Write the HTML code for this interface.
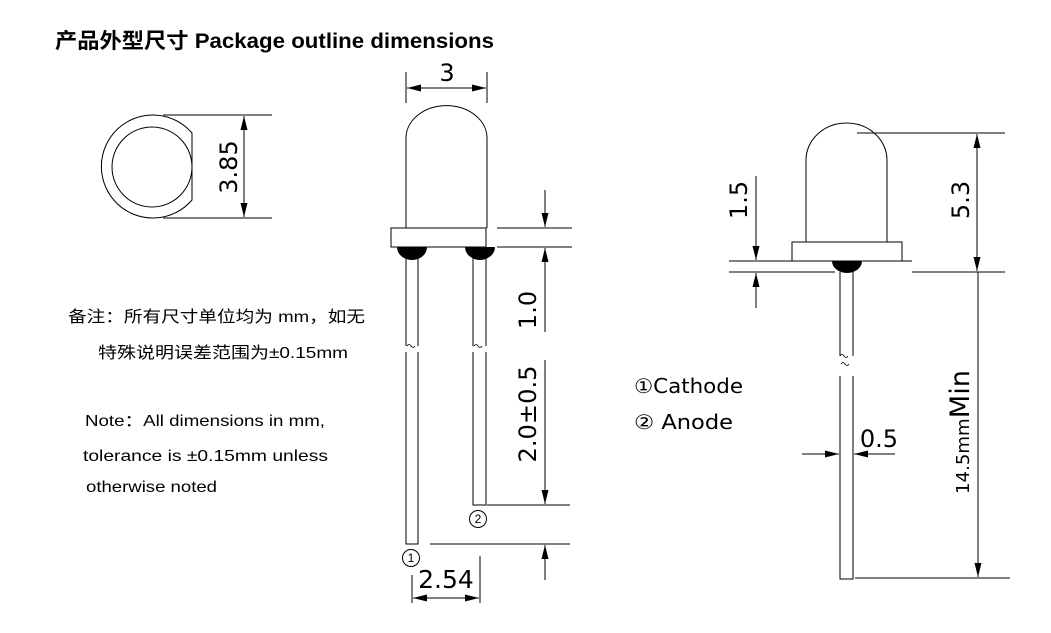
<!DOCTYPE html>
<html><head><meta charset="utf-8"><style>
html,body{margin:0;padding:0;background:#fff;}
svg{display:block;}
text{font-family:"Liberation Sans","Noto Sans CJK SC",sans-serif;fill:#000;}
.dim{font-family:"DejaVu Sans","Liberation Sans",sans-serif;}
</style></head><body>
<svg width="1051" height="633" viewBox="0 0 1051 633" xmlns="http://www.w3.org/2000/svg">
<defs>
<marker id="a" viewBox="0 0 14 7" refX="14" refY="3.5" markerWidth="14" markerHeight="7" orient="auto-start-reverse" markerUnits="userSpaceOnUse"><path d="M0,0L14,3.5L0,7z" fill="#000"/></marker>
</defs>
<text x="55" y="48" font-size="21" font-weight="bold" textLength="439" lengthAdjust="spacingAndGlyphs">产品外型尺寸 Package outline dimensions</text>

<!-- top view -->
<g fill="none" stroke="#000" stroke-width="1">
<path d="M192,133 A51.5,51.5 0 1 0 192,200 Z"/>
<circle cx="152" cy="167" r="40"/>
<line x1="163" y1="115" x2="272" y2="115"/>
<line x1="163" y1="218" x2="272" y2="218"/>
<line x1="244" y1="116" x2="244" y2="217" marker-start="url(#a)" marker-end="url(#a)"/>
</g>
<text class="dim" font-size="24" transform="translate(237,167) rotate(-90)" text-anchor="middle">3.85</text>

<!-- notes -->
<text x="68" y="322" font-size="16" textLength="297" lengthAdjust="spacingAndGlyphs">备注：所有尺寸单位均为 mm，如无</text>
<text x="98" y="358" font-size="16" textLength="250" lengthAdjust="spacingAndGlyphs">特殊说明误差范围为±0.15mm</text>
<text x="85" y="426" font-size="16" textLength="240" lengthAdjust="spacingAndGlyphs">Note：All dimensions in mm,</text>
<text x="83" y="461" font-size="16" textLength="245" lengthAdjust="spacingAndGlyphs">tolerance is  ±0.15mm unless</text>
<text x="86" y="492" font-size="16" textLength="131" lengthAdjust="spacingAndGlyphs">otherwise noted</text>

<!-- middle LED -->
<g fill="none" stroke="#000" stroke-width="1">
<path d="M406,228 L406,138 A40,32 0 0 1 487,138 L487,228"/>
<rect x="391" y="228" width="95" height="19"/>
<line x1="497" y1="228" x2="572" y2="228"/>
<line x1="497" y1="247" x2="572" y2="247"/>
<line x1="406" y1="72" x2="406" y2="103"/>
<line x1="487" y1="72" x2="487" y2="103"/>
<line x1="407" y1="88" x2="486" y2="88" marker-start="url(#a)" marker-end="url(#a)"/>
<line x1="545" y1="190" x2="545" y2="227" marker-end="url(#a)"/>
<line x1="545" y1="332" x2="545" y2="248" marker-end="url(#a)"/>
<path d="M406,255 V346 M418,255 V346 M473,255 V346 M486,255 V346"/>
<path d="M406,352 V544 H418 V352 M473,352 V505 H486 V352"/>
<path d="M407,346 q2,-3 4,0 q2,3 4,0 M474,346 q2,-3 4,0 q2,3 4,0" stroke-width="0.8"/>
<line x1="487" y1="505" x2="570" y2="505"/>
<line x1="430" y1="544" x2="570" y2="544"/>
<line x1="545" y1="360" x2="545" y2="504" marker-end="url(#a)"/>
<line x1="545" y1="580" x2="545" y2="545" marker-end="url(#a)"/>
<circle cx="478" cy="519" r="8.5"/>
<circle cx="411" cy="558" r="8.5"/>
<line x1="412" y1="575" x2="412" y2="603"/>
<line x1="480" y1="556" x2="480" y2="603"/>
<line x1="413" y1="598" x2="479" y2="598" marker-start="url(#a)" marker-end="url(#a)"/>
</g>
<path d="M397,247 A15,13 0 0 0 427,247 Z M465,247 A15,13 0 0 0 495,247 Z" fill="#000"/>
<text class="dim" x="447" y="81" font-size="24" text-anchor="middle">3</text>
<text class="dim" font-size="24" transform="translate(536,310) rotate(-90)" text-anchor="middle">1.0</text>
<text class="dim" font-size="24" transform="translate(536,414) rotate(-90)" text-anchor="middle" textLength="97" lengthAdjust="spacingAndGlyphs">2.0±0.5</text>
<text x="478" y="523" font-size="12" text-anchor="middle">2</text>
<text x="411" y="562" font-size="12" text-anchor="middle">1</text>
<text class="dim" x="446" y="588" font-size="25" text-anchor="middle">2.54</text>

<!-- labels -->
<text class="dim" x="634" y="393" font-size="20" textLength="109" lengthAdjust="spacingAndGlyphs">①Cathode</text>
<text class="dim" x="634" y="429" font-size="20" textLength="99" lengthAdjust="spacingAndGlyphs">② Anode</text>

<!-- right LED -->
<g fill="none" stroke="#000" stroke-width="1">
<path d="M806,242 L806,160 A40.5,37 0 0 1 887,160 L887,242"/>
<rect x="792" y="242" width="110" height="19"/>
<line x1="729" y1="261" x2="912" y2="261"/>
<line x1="729" y1="272" x2="835" y2="272"/>
<line x1="912" y1="272" x2="1005" y2="272"/>
<line x1="857" y1="133" x2="1005" y2="133"/>
<line x1="977" y1="134" x2="977" y2="271" marker-start="url(#a)" marker-end="url(#a)"/>
<line x1="756" y1="176" x2="756" y2="260" marker-end="url(#a)"/>
<line x1="756" y1="308" x2="756" y2="273" marker-end="url(#a)"/>
<path d="M840,272 V356 M853,272 V356"/>
<path d="M840,376 V579 H853 V376"/>
<path d="M840,356 q2,-3 4,0 q2,3 4,0 M841,364 q2,-3 4,0 q2,3 4,0" stroke-width="0.8"/>
<line x1="855" y1="578" x2="1010" y2="578"/>
<line x1="978" y1="272" x2="978" y2="577" marker-end="url(#a)"/>
<line x1="802" y1="454" x2="839" y2="454" marker-end="url(#a)"/>
<line x1="895" y1="454" x2="854" y2="454" marker-end="url(#a)"/>
</g>
<path d="M832,261 A15,12 0 0 0 862,261 Z" fill="#000"/>
<text class="dim" font-size="24" transform="translate(747,200) rotate(-90)" text-anchor="middle">1.5</text>
<text class="dim" font-size="24" transform="translate(969,200) rotate(-90)" text-anchor="middle">5.3</text>
<text class="dim" x="879" y="447" font-size="24" text-anchor="middle">0.5</text>
<text class="dim" transform="translate(969,432) rotate(-90)" text-anchor="middle" textLength="124" lengthAdjust="spacingAndGlyphs"><tspan font-size="18">14.5mm</tspan><tspan font-size="27">Min</tspan></text>
</svg>
</body></html>
